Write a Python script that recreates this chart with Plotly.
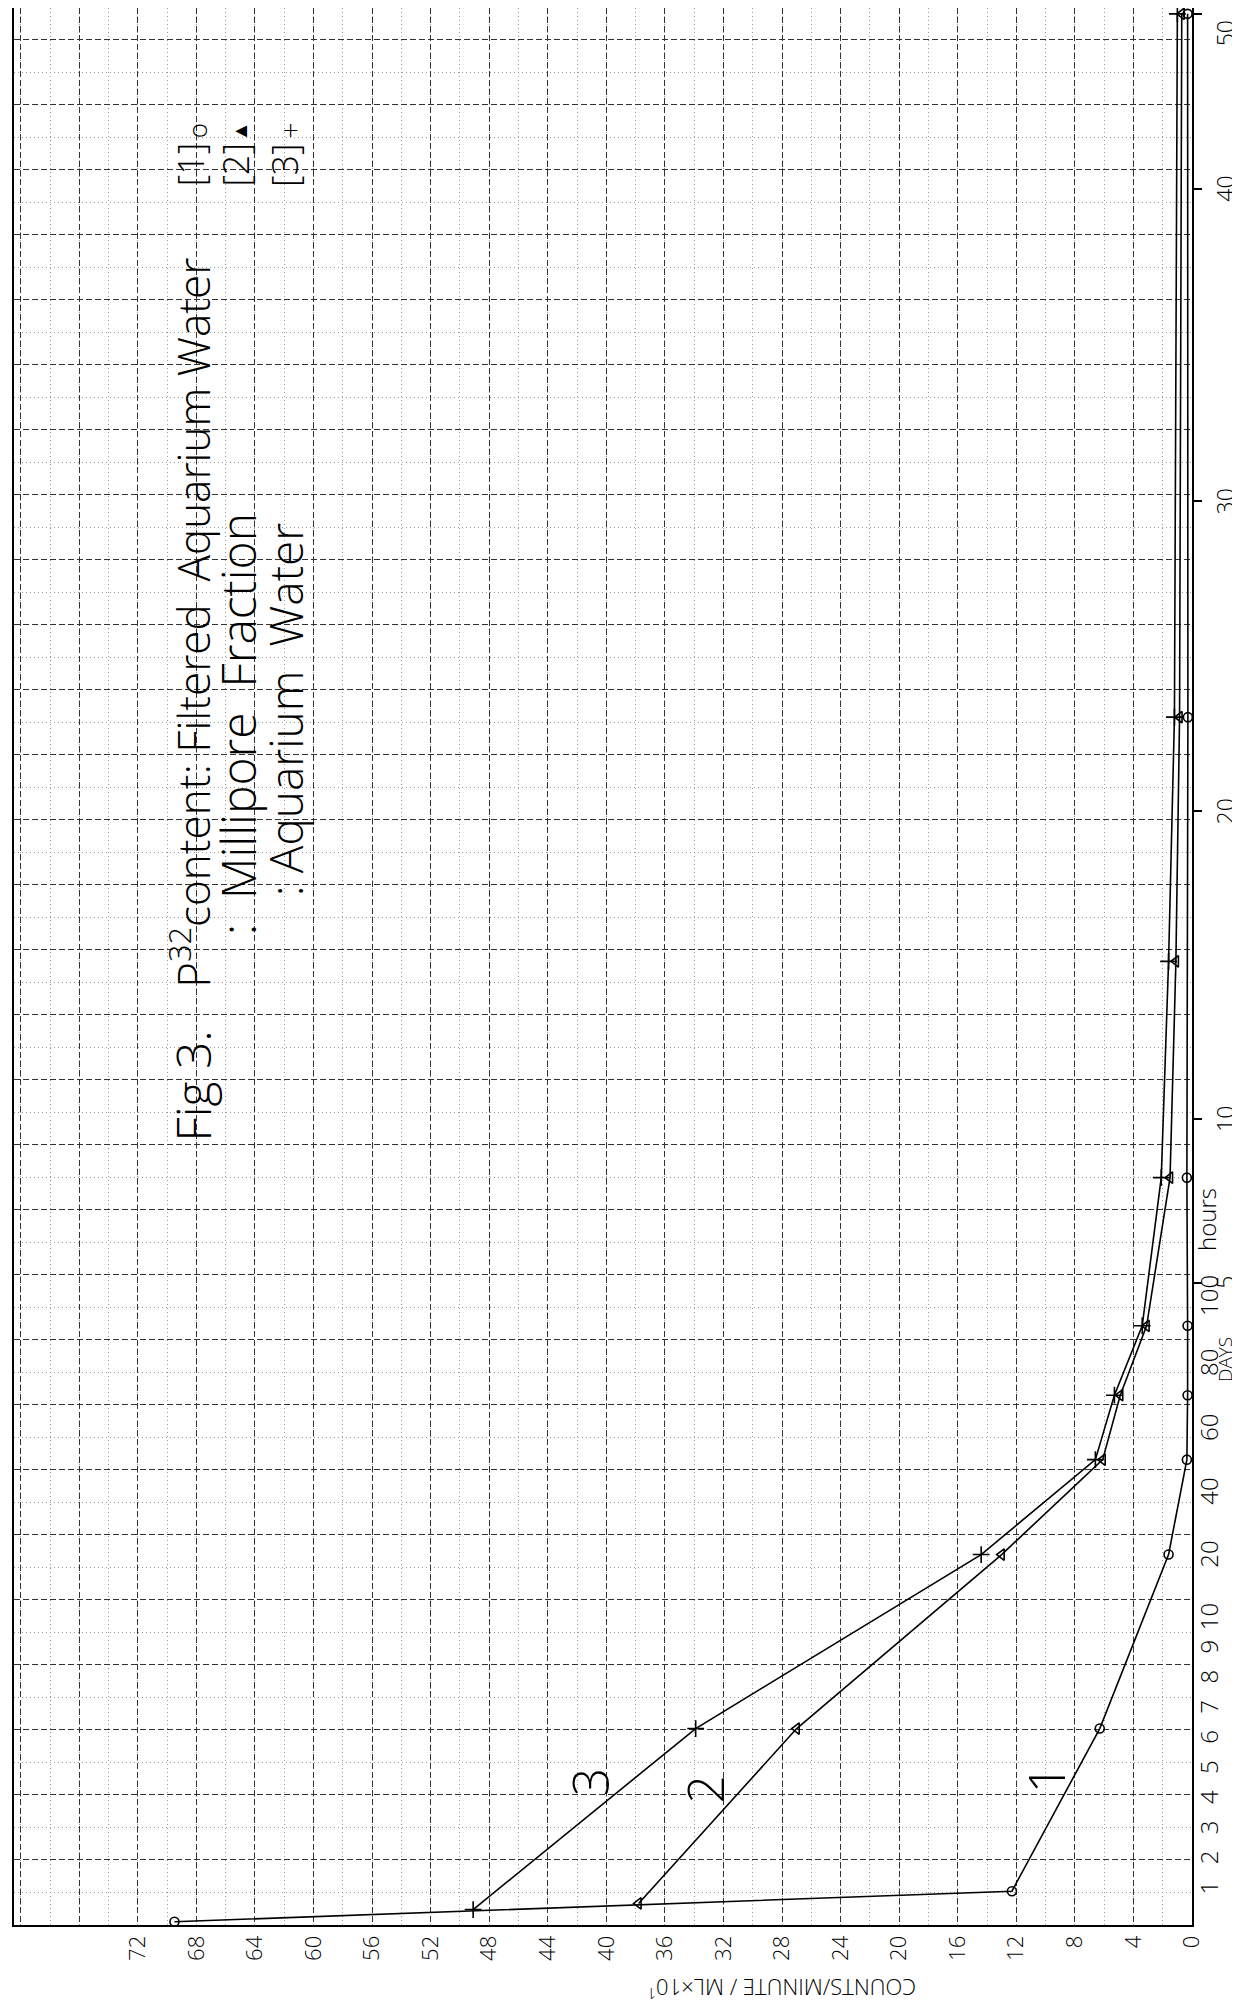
import numpy as np
import plotly.graph_objects as go

# ---- time axis definition (tick anchors: hours -> axis position in grid units) ----
scale_hours = [0, 1, 10, 20, 40, 60, 80, 100, 120, 240, 480, 720, 960, 1200]
scale_pos = [0.05, 0.52, 4.69, 5.65, 6.62, 7.60, 8.60, 9.63, 9.88, 12.40, 17.13, 21.90, 26.71, 29.40]

hour_ticks = [1, 2, 3, 4, 5, 6, 7, 8, 9, 10, 20, 40, 60, 80, 100]
hour_labels = ["1", "2", "3", "4", "5", "6", "7", "8", "9", "10", "20", "40", "60", "80", "100"]
day_ticks = [5, 10, 20, 30, 40, 50]
day_labels = ["5", "10", "20", "30", "40", "50"]
count_ticks = list(range(0, 73, 4))
count_labels = [str(v) for v in count_ticks]

# ---- data (time in hours, counts/minute/ml x10) ----
s1_hours = [0, 1, 6.4, 21, 51, 71, 92, 197, 553, 1200]
s1_counts = [69.5, 12.3, 6.3, 1.6, 0.35, 0.3, 0.3, 0.35, 0.28, 0.3]
s2_hours = [0.6, 6.4, 21, 51, 71, 92, 197, 363, 553, 1200]
s2_counts = [37.8, 27.0, 13.0, 6.1, 4.9, 3.1, 1.5, 1.1, 0.85, 0.7]
s3_hours = [0.4, 6.4, 21, 51, 71, 92, 197, 363, 553, 1200]
s3_counts = [49.1, 33.9, 14.4, 6.6, 5.3, 3.4, 2.1, 1.6, 1.2, 1.0]


def t2pos(h):
    return np.interp(np.asarray(h, dtype=float), scale_hours, scale_pos)


FONT = "Open Sans, Liberation Sans, DejaVu Sans, sans-serif"
Y_TOP = 29.49
X_LEFT = 80.46
# plot area in pixels (for paper-referenced labels outside the axes)
PX_L, PX_R, PX_B = 6, 1184, 1917


def px_paper(xp, yp):
    return (xp - PX_L) / (PX_R - PX_L), (PX_B - yp) / PX_B


fig = go.Figure()
line = dict(color="black", width=1.6)
fig.add_trace(go.Scatter(x=s1_counts, y=t2pos(s1_hours), mode="lines+markers", line=line,
                         marker=dict(symbol="circle-open", size=9, color="black", line=dict(width=1.6)),
                         cliponaxis=False, showlegend=False))
fig.add_trace(go.Scatter(x=s2_counts, y=t2pos(s2_hours), mode="lines+markers", line=line,
                         marker=dict(symbol="triangle-left-open", size=10, color="black", line=dict(width=1.6)),
                         cliponaxis=False, showlegend=False))
fig.add_trace(go.Scatter(x=s3_counts, y=t2pos(s3_hours), mode="lines+markers", line=line,
                         marker=dict(symbol="cross-thin-open", size=12, color="black", line=dict(width=1.6)),
                         cliponaxis=False, showlegend=False))
# carriers for the overlay axes
fig.add_trace(go.Scatter(x=[0], y=[0], yaxis="y2", mode="markers", marker=dict(opacity=0),
                         showlegend=False, hoverinfo="skip"))
fig.add_trace(go.Scatter(x=[0], y=[0], yaxis="y3", mode="markers", marker=dict(opacity=0),
                         showlegend=False, hoverinfo="skip"))
fig.add_trace(go.Scatter(x=[0], y=[0], xaxis="x2", mode="markers", marker=dict(opacity=0),
                         showlegend=False, hoverinfo="skip"))

day_pos = t2pos([d * 24 for d in day_ticks])
GRID = dict(showgrid=True, gridcolor="#333", gridwidth=1, griddash="6px,3px")

fig.update_layout(
    width=1240, height=2013,
    margin=dict(l=PX_L, r=1240 - PX_R, t=0, b=2013 - PX_B),
    paper_bgcolor="white", plot_bgcolor="white",
    font=dict(family=FONT, color="black"),
    xaxis=dict(range=[X_LEFT, 0], tickmode="array", tickvals=count_ticks, ticktext=count_labels,
               tickangle=-90, tickfont=dict(size=22, family=FONT, weight=300), ticks="", **GRID,
               minor=dict(dtick=2, showgrid=True, gridcolor="#999", gridwidth=1, griddash="1px,3px"),
               showline=True, linecolor="black", linewidth=2, zeroline=False),
    # graph-paper lines beyond the last labelled count
    xaxis2=dict(overlaying="x", range=[X_LEFT, 0], tickmode="array", tickvals=[76, 80],
                showticklabels=False, ticks="", **GRID, zeroline=False, showline=False),
    yaxis=dict(range=[0, Y_TOP], tickmode="linear", tick0=0, dtick=1, showticklabels=False, ticks="",
               **GRID,
               minor=dict(dtick=0.5, showgrid=True, gridcolor="#999", gridwidth=1, griddash="1px,3px"),
               showline=True, mirror=True, linecolor="black", linewidth=2, side="right", zeroline=False),
    yaxis2=dict(overlaying="y", side="right", range=[0, Y_TOP], tickmode="array",
                tickvals=t2pos(hour_ticks), ticktext=hour_labels, tickangle=-90,
                tickfont=dict(size=24, family=FONT, weight=300), ticks="", showgrid=False,
                showline=False, zeroline=False, ticklabelstandoff=1),
    yaxis3=dict(overlaying="y", side="right", range=[0, Y_TOP], tickmode="array",
                tickvals=day_pos, showticklabels=False, ticks="outside", ticklen=9,
                tickcolor="black", tickwidth=1.5, showgrid=False, showline=False, zeroline=False),
)

ann = []


def add(text, x, y, size, xanchor="center", yanchor="middle", angle=-90, ref="data"):
    if ref == "paper":
        x, y = px_paper(x, y)
        xr, yr = "paper", "paper"
    elif ref == "px_y":
        x = (x - PX_L) / (PX_R - PX_L)
        xr, yr = "paper", "y"
    else:
        xr, yr = "x", "y"
    ann.append(dict(text=text, x=x, y=y, xref=xr, yref=yr, showarrow=False, textangle=angle,
                    xanchor=xanchor, yanchor=yanchor,
                    font=dict(size=size, family=FONT, color="black", weight=300)))


# day labels (second label column of the time axis)
for lab, p in zip(day_labels, day_pos):
    add(lab, 1217, float(min(p, 29.1)), 23, ref="px_y")

add("Fig 3.", 68.3, 12.9, 48)
add("P<sup>32</sup>content: Filtered  Aquarium Water", 68.4, 14.38, 44, yanchor="bottom")
add("[1]", 68.4, 27.08, 36)
add("o", 68.0, 27.6, 26)
add(":  Millipore  Fraction", 65.2, 15.2, 48, yanchor="bottom")
add("[2]", 65.3, 27.08, 36)
add("▲", 65.0, 27.6, 20)
add(": Aquarium  Water", 61.9, 15.8, 46, yanchor="bottom")
add("[3]", 62.0, 27.08, 36)
add("+", 61.7, 27.6, 28)
add("3", 41.1, 2.2, 50)
add("2", 33.2, 2.1, 50)
add("1", 10.0, 2.25, 50)
add("hours", 1198, 1212, 24, ref="paper")
add("DAYS", 1217, 1352, 19, ref="paper")
add("COUNTS/MINUTE / ML×10<sup>1</sup>", 774, 1981, 22, angle=180, ref="paper")
fig.update_layout(annotations=ann)

fig.write_html("out.html")
